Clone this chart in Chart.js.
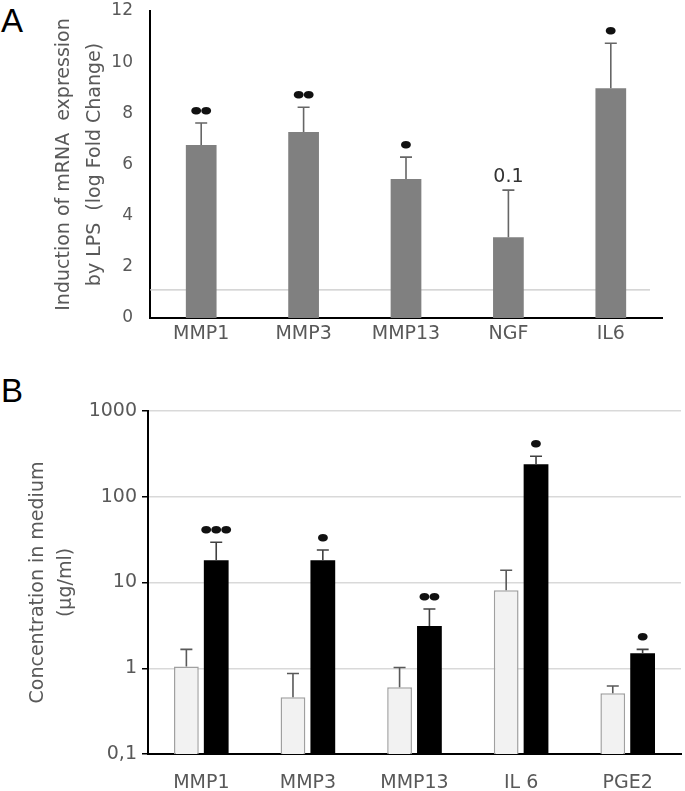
<!DOCTYPE html>
<html><head><meta charset="utf-8">
<script src="https://cdn.jsdelivr.net/npm/chart.js@4"></script>
<style>
html,body{margin:0;padding:0;background:#fff;width:685px;height:791px;overflow:hidden}
.lbl{position:absolute;font-family:'Liberation Sans';font-size:33px;color:#000;line-height:1}
#wa{position:absolute;left:0;top:0;width:685px;height:345px}
#wb{position:absolute;left:0;top:375px;width:685px;height:416px}
</style></head><body>
<div class="lbl" style="left:1px;top:4px">A</div>
<div class="lbl" style="left:1px;top:374px">B</div>
<div id="wa"><canvas id="ca"></canvas></div>
<div id="wb"><canvas id="cb"></canvas></div>
<script>
// ---- Panel A data ----
const catsA = ["MMP1","MMP3","MMP13","NGF","IL6"];
const valsA = [6.76,7.27,5.43,3.16,8.98];
const errA  = [7.62,8.24,6.29,5.0,10.74];   // upper end of error bars
const sigA  = ["••","••","•","0.1","•"];
const refLineA = 1.1;
const ticksA = [0,2,4,6,8,10,12];
const titleA = ["Induction of mRNA  expression","by LPS  (log Fold Change)"];

// ---- Panel B data ----
const catsB = ["MMP1","MMP3","MMP13","IL 6","PGE2"];
const ctrlB = [1.05,0.46,0.60,8.1,0.51];
const ctrlErrB = [1.66,0.87,1.02,13.9,0.62];
const lpsB  = [18.2,18.2,3.1,240,1.5];
const lpsErrB = [29.5,23.9,4.9,297,1.66];
const sigB  = ["•••","•","••","•","•"];
const ticksB = [0.1,1,10,100,1000];
const tickLabelsB = ["0,1","1","10","100","1000"];
const titleB = ["Concentration in medium","(µg/ml)"];

const FONT = "DejaVu Sans";
const GREY = "#595959";

const errPlugin = {
  id:'errbars',
  afterDatasetsDraw(chart){
    const ctx = chart.ctx, ys = chart.scales.y;
    chart.data.datasets.forEach((ds,di)=>{
      if(!ds.errTop) return;
      const meta = chart.getDatasetMeta(di);
      meta.data.forEach((bar,i)=>{
        const yTop = ys.getPixelForValue(ds.errTop[i]);
        ctx.save();
        ctx.strokeStyle = ds.errColor; ctx.lineWidth = 1.6;
        ctx.beginPath();
        ctx.moveTo(bar.x, bar.y); ctx.lineTo(bar.x, yTop);
        ctx.moveTo(bar.x-6, yTop); ctx.lineTo(bar.x+6, yTop);
        ctx.stroke();
        if(ds.sig){
          const s = ds.sig[i];
          const isDot = s.indexOf('•')>=0;
          ctx.textAlign='center'; ctx.textBaseline='middle';
          if(isDot){
            ctx.fillStyle = '#111';
            ctx.font = 'bold 28px '+FONT;
            const chars = Array.from(s), step = 10;
            const x0 = bar.x - (chars.length-1)*step/2;
            chars.forEach((c,k)=>{
              ctx.save();
              ctx.translate(x0 + k*step, yTop - 10);
              ctx.scale(1, 0.78);
              ctx.fillText(c, 0, 0);
              ctx.restore();
            });
          } else {
            ctx.fillStyle = '#333';
            ctx.font = '19px '+FONT;
            ctx.fillText(s, bar.x, yTop - 13);
          }
        }
        ctx.restore();
      });
    });
  }
};

const refPlugin = {
  id:'refline',
  beforeDatasetsDraw(chart, args, opts){
    if(opts.value===undefined) return;
    const ctx = chart.ctx, ys = chart.scales.y, a = chart.chartArea;
    const y = ys.getPixelForValue(opts.value);
    ctx.save(); ctx.strokeStyle='#c8c8c8'; ctx.lineWidth=1.2;
    ctx.beginPath(); ctx.moveTo(a.left, y); ctx.lineTo(a.right-12, y); ctx.stroke(); ctx.restore();
  }
};

Chart.register(errPlugin, refPlugin);

new Chart(document.getElementById('ca'), {
  type:'bar',
  data:{ labels:catsA, datasets:[{
    data:valsA, backgroundColor:'#808080', borderWidth:0,
    errTop:errA, errColor:'#666', sig:sigA,
    barPercentage:0.3, categoryPercentage:1
  }]},
  options:{
    responsive:true, maintainAspectRatio:false, animation:false,
    layout:{padding:{left:0,right:23,top:11,bottom:0}},
    plugins:{legend:{display:false}, tooltip:{enabled:false}, refline:{value:refLineA}},
    scales:{
      x:{
        grid:{display:false, drawTicks:false},
        border:{color:'#000', width:2},
        ticks:{color:GREY, font:{family:FONT,size:19}, padding:5},
        afterFit(s){ s.height = 27; }
      },
      y:{
        min:0, max:12,
        afterBuildTicks(s){ s.ticks = ticksA.map(v=>({value:v})); },
        grid:{display:false, drawTicks:true, tickLength:5, tickColor:'#000'},
        border:{color:'#000', width:2},
        ticks:{color:GREY, font:{family:FONT,size:17}, padding:12},
        title:{display:true, text:titleA, color:GREY, font:{family:FONT,size:19,lineHeight:1.63}, padding:{top:49,bottom:0}},
        afterFit(s){ s.width = 150; s.paddingTop = 0; s.paddingBottom = 0; }
      }
    }
  }
});

new Chart(document.getElementById('cb'), {
  type:'bar',
  data:{ labels:catsB, datasets:[
    { data:ctrlB, backgroundColor:'#f2f2f2', borderColor:'#a0a0a0', borderWidth:1.5,
      errTop:ctrlErrB, errColor:'#595959', barPercentage:0.83, categoryPercentage:0.56 },
    { data:lpsB, backgroundColor:'#000', borderWidth:0,
      errTop:lpsErrB, errColor:'#404040', sig:sigB, barPercentage:0.83, categoryPercentage:0.56 }
  ]},
  options:{
    responsive:true, maintainAspectRatio:false, animation:false,
    layout:{padding:{left:0,right:4,top:36,bottom:0}},
    plugins:{legend:{display:false}, tooltip:{enabled:false}},
    scales:{
      x:{
        grid:{display:false, drawTicks:false},
        border:{color:'#000', width:2},
        ticks:{color:GREY, font:{family:FONT,size:19}, padding:18},
        afterFit(s){ s.height = 37; }
      },
      y:{
        type:'logarithmic', min:0.1, max:1000,
        afterBuildTicks(s){ s.ticks = ticksB.map(v=>({value:v})); },
        grid:{display:true, color:(c)=> c.tick && c.tick.value===0.1 ? 'rgba(0,0,0,0)' : '#d9d9d9', lineWidth:1.5,
              drawTicks:true, tickLength:6, tickColor:'#000'},
        border:{color:'#000', width:2},
        ticks:{color:GREY, font:{family:FONT,size:19}, padding:5,
               callback:(v)=>{ const i = ticksB.indexOf(v); return i>=0 ? tickLabelsB[i] : ''; }},
        title:{display:true, text:titleB, color:GREY, font:{family:FONT,size:19,lineHeight:1.47}, padding:{top:24,bottom:0}},
        afterFit(s){ s.width = 148; s.paddingTop = 0; s.paddingBottom = 0; }
      }
    }
  }
});
</script>
</body></html>
